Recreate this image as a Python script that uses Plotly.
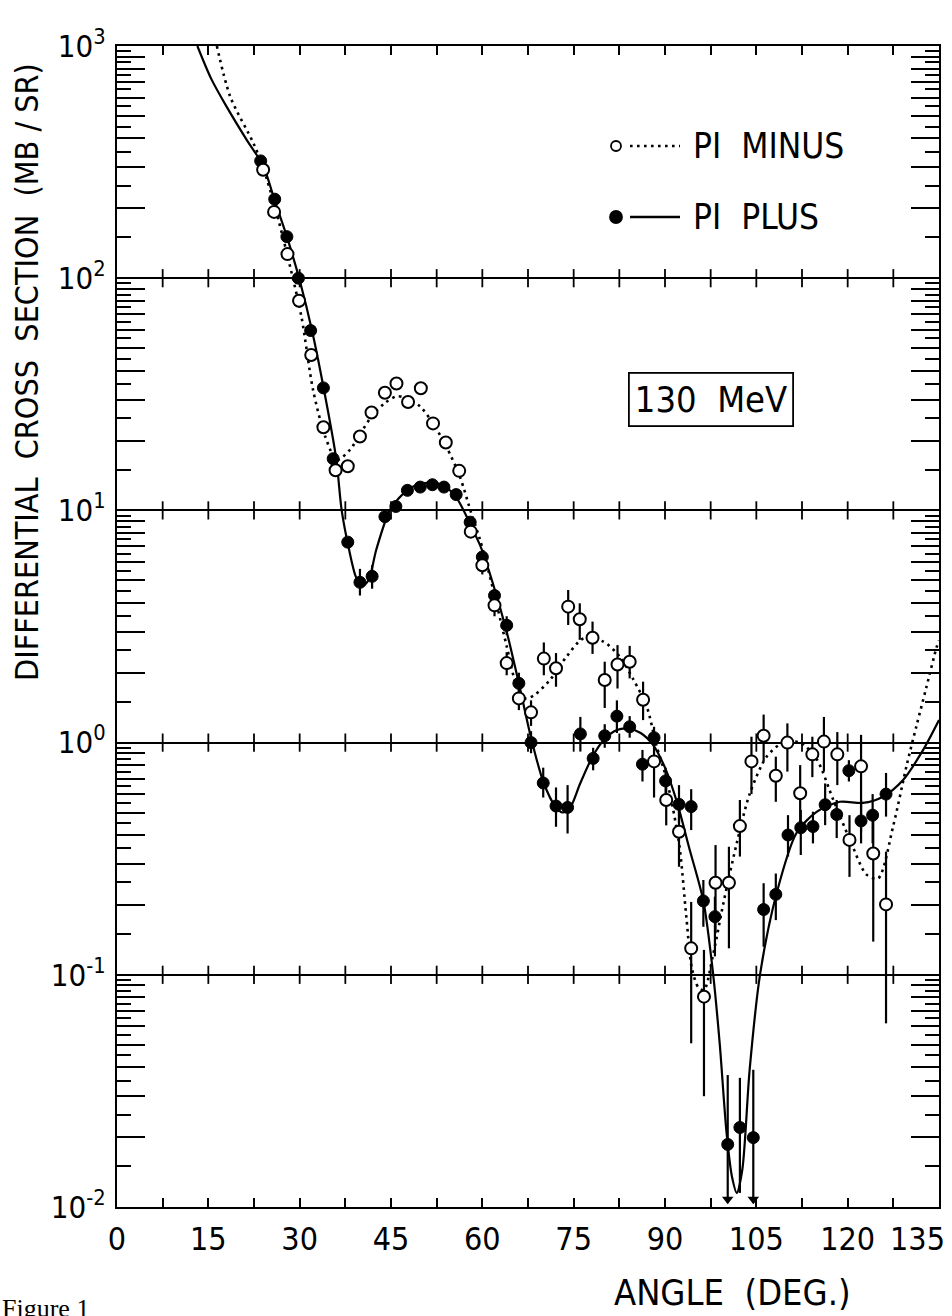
import plotly.graph_objects as go

# ---------------- measured differential cross sections (mb/sr) ----------------
# pi-  (open circles)
minus_angle = [24.0, 25.8, 28.0, 29.9, 31.9, 33.9, 35.9, 37.9, 39.9, 41.8,
               44.0, 45.9, 47.8, 49.9, 51.9, 54.0, 56.2, 58.1, 60.0, 62.0,
               64.0, 66.0, 68.0, 70.1, 72.1, 74.1, 76.0, 78.1, 80.1, 82.2,
               84.2, 86.4, 88.2, 90.2, 92.3, 94.3, 96.4, 98.3, 100.5, 102.3,
               104.2, 106.2, 108.2, 110.1, 112.2, 114.2, 116.1, 118.3, 120.3, 122.2,
               124.2, 126.3]
minus_xs = [293, 193, 127, 80, 46.7, 22.8, 14.9, 15.5, 20.8, 26.4,
            32.1, 35.2, 29.3, 33.6, 23.7, 19.6, 14.8, 8.1, 5.8, 3.9,
            2.2, 1.55, 1.35, 2.3, 2.09, 3.85, 3.40, 2.83, 1.86, 2.17,
            2.23, 1.53, 0.83, 0.566, 0.413, 0.130, 0.0805, 0.249, 0.249, 0.437,
            0.83, 1.07, 0.72, 1.0, 0.605, 0.89, 1.01, 0.89, 0.381, 0.79,
            0.333, 0.201]
# error bar ends (None where the bar is hidden by the symbol)
minus_hi = [None] * 18 + [6.3, 4.3,
            2.45, 1.72, 1.52, 2.7, 2.43, 4.54, 3.98, 3.32, 2.23, 2.63,
            2.61, 1.83, 0.95, 0.68, 0.513, 0.206, 0.128, 0.362, 0.356, 0.566,
            1.06, 1.32, 0.87, 1.21, 0.80, 1.06, 1.29, 1.11, 0.487, 1.08,
            0.487, 0.339]
minus_lo = [None] * 18 + [5.3, 3.5,
            1.95, 1.38, 1.18, 1.95, 1.74, 3.21, 2.77, 2.41, 1.41, 1.71,
            1.89, 1.25, 0.58, 0.44, 0.292, 0.0507, 0.030, 0.151, 0.13, 0.323,
            0.60, 0.83, 0.556, 0.75, 0.434, 0.71, 0.75, 0.656, 0.264, 0.413,
            0.139, 0.0618]

# pi+  (filled circles)
plus_angle = [23.6, 25.9, 27.9, 29.8, 31.8, 33.9, 35.5, 37.9, 39.9, 41.9,
              44.0, 45.8, 47.7, 49.8, 51.8, 53.7, 55.7, 58.0, 60.0, 62.0,
              64.0, 66.0, 68.0, 70.0, 72.1, 74.0, 76.1, 78.2, 80.1, 82.1,
              84.2, 86.3, 88.2, 90.1, 92.3, 94.3, 96.3, 98.2, 100.3, 102.3,
              104.5, 106.2, 108.2, 110.2, 112.3, 114.3, 116.3, 118.2, 120.2, 122.2,
              124.1, 126.3]
plus_xs = [320, 219, 151, 100, 59.5, 33.7, 16.7, 7.3, 4.9, 5.2,
           9.4, 10.4, 12.2, 12.6, 12.9, 12.6, 11.7, 8.9, 6.3, 4.3,
           3.2, 1.8, 1.0, 0.67, 0.533, 0.526, 1.09, 0.855, 1.07, 1.30,
           1.17, 0.807, 1.05, 0.684, 0.542, 0.53, 0.208, 0.178, 0.0186, 0.022,
           0.0199, 0.191, 0.222, 0.40, 0.43, 0.435, 0.54, 0.49, 0.757, 0.46,
           0.487, 0.60]
plus_hi = [None] * 8 + [5.6, 5.8] + [None] * 10 + [
           3.5, 2.0, 1.12, 0.78, 0.641, 0.656, 1.29, 0.95, 1.2, 1.52,
           1.3, 0.93, 1.17, 0.78, 0.656, 0.63, 0.256, 0.217, 0.037, 0.036,
           0.039, 0.248, 0.273, 0.487, 0.513, 0.504, 0.667, 0.566, 0.84, 0.566,
           0.60, 0.74]
plus_lo = [None] * 8 + [4.3, 4.6] + [None] * 10 + [
           2.9, 1.6, 0.9, 0.58, 0.434, 0.406, 0.915, 0.76, 0.95, 1.10,
           1.05, 0.68, 0.94, 0.59, 0.45, 0.42, 0.161, 0.12, 0.0104, 0.0115,
           0.0104, 0.132, 0.172, 0.323, 0.328, 0.368, 0.441, 0.388, 0.68, 0.368,
           0.368, 0.48]

# upper limits drawn as downward arrows at the lower frame
limit_angle = [100.3, 104.5]
limit_xs = [0.0108, 0.0108]

# ---------------- calculated cross sections ----------------
plus_curve_angle = [13.2, 15.5, 18.0, 21.3, 24.0, 26.0, 28.0, 30.0, 32.0, 34.0,
                    36.0, 36.9, 38.1, 39.2, 40.2, 41.3, 42.6, 44.8, 47.0, 49.0,
                    51.8, 54.0, 55.8, 58.5, 59.9, 62.0, 64.0, 66.0, 68.0, 70.0,
                    72.0, 73.2, 74.5, 76.0, 78.0, 80.0, 82.0, 84.0, 86.0, 88.0,
                    90.0, 92.0, 94.0, 96.3, 97.9, 99.0, 100.1, 101.0, 101.8, 102.7,
                    103.9, 105.6, 108.3, 111.6, 114.9, 118.7, 122.5, 125.8, 129.1, 132.4,
                    135.0]
plus_curve_xs = [1000, 720, 548, 394, 305, 212, 148, 98, 60, 33,
                 16.7, 10.0, 6.8, 5.2, 4.7, 5.0, 6.8, 10.0, 11.8, 12.8,
                 13.2, 12.6, 11.3, 8.2, 6.8, 4.6, 3.0, 1.8, 1.05, 0.68,
                 0.53, 0.50, 0.53, 0.66, 0.86, 1.03, 1.13, 1.15, 1.10, 0.98,
                 0.78, 0.55, 0.35, 0.208, 0.101, 0.05, 0.021, 0.0135, 0.0115, 0.0145,
                 0.039, 0.10, 0.223, 0.408, 0.503, 0.556, 0.55, 0.585, 0.69, 0.93,
                 1.25]

minus_curve_angle = [16.4, 18.6, 22.4, 24.0, 26.0, 28.0, 30.3, 32.2, 34.2, 36.1,
                     38.3, 40.0, 42.1, 44.0, 45.9, 47.5, 49.8, 51.9, 54.1, 56.3,
                     58.2, 59.6, 61.0, 62.5, 64.0, 65.5, 67.0, 68.5, 71.1, 73.8,
                     76.6, 79.9, 82.6, 84.8, 87.0, 88.6, 90.3, 92.3, 93.5, 94.4,
                     95.5, 96.4, 97.9, 99.6, 101.8, 103.9, 106.7, 109.4, 112.2, 114.9,
                     117.6, 120.4, 123.1, 125.0, 127.5, 129.7, 131.3, 132.9, 134.6, 135.0]
minus_curve_xs = [1000, 605, 382, 300, 200, 125, 68, 33, 20.8, 16.5,
                  18.3, 21.5, 26.0, 29.0, 31.0, 30.5, 28.0, 23.7, 18.8, 14.0,
                  9.7, 7.5, 5.5, 3.8, 2.6, 1.8, 1.55, 1.6, 1.86, 2.34,
                  2.81, 2.72, 2.34, 1.87, 1.43, 0.97, 0.69, 0.37, 0.178, 0.107,
                  0.088, 0.086, 0.122, 0.204, 0.37, 0.60, 0.87, 1.0, 1.0, 0.85,
                  0.57, 0.38, 0.27, 0.26, 0.44, 0.80, 1.18, 1.72, 2.57, 2.75]

# ---------------- axis ticks ----------------
x_label_vals = [0, 15, 30, 45, 60, 75, 90, 105, 120]
x_label_text = ["0", "15", "30", "45", "60", "75", "90", "105", "120"]
x_minor_vals = [7.5, 22.5, 37.5, 52.5, 67.5, 82.5, 97.5, 112.5, 127.5, 135]
x_end_label = "135"
decade_vals = [0.01, 0.1, 1, 10, 100, 1000]
decade_text = ["10<sup>-2</sup>", "10<sup>-1</sup>", "10<sup>0</sup>",
               "10<sup>1</sup>", "10<sup>2</sup>", "10<sup>3</sup>"]
long_mantissa = [2, 3, 4, 5, 6, 7, 8, 9]
short_mantissa = [1.5, 2.5, 3.5, 4.5, 5.5, 6.5, 7.5, 8.5, 9.5]
inner_decades = [0.1, 1, 10, 100]
inner_tick_angles = [7.5, 15, 22.5, 30, 37.5, 45, 52.5, 60, 67.5, 75, 82.5, 90,
                     97.5, 105, 112.5, 120, 127.5]

FONT = "DejaVu Sans Condensed, Liberation Sans Narrow, DejaVu Sans, sans-serif"
INK = "black"

# plot frame in pixels
W, H = 952, 1316
L, R, T, B = 117, 13, 46, 109
PW, PH = W - L - R, H - T - B


def px(x):
    return (x - L) / PW


def py(y):
    return (H - B - y) / PH


def bars(vals, hi, lo):
    up = [0 if h is None else h - v for v, h in zip(vals, hi)]
    dn = [0 if l is None else v - l for v, l in zip(vals, lo)]
    return up, dn


long_ticks = [m * d for d in decade_vals[:-1] for m in long_mantissa]
short_ticks = [m * d for d in decade_vals[:-1] for m in short_mantissa]

fig = go.Figure()

# calculated curves
fig.add_trace(go.Scatter(
    x=minus_curve_angle, y=minus_curve_xs, mode="lines",
    line=dict(color=INK, width=2.6, dash="2.6px,4.4px", shape="spline", smoothing=0.8),
    hoverinfo="skip", showlegend=False))
fig.add_trace(go.Scatter(
    x=plus_curve_angle, y=plus_curve_xs, mode="lines",
    line=dict(color=INK, width=2.2, shape="spline", smoothing=0.8),
    hoverinfo="skip", showlegend=False))

# data points
m_up, m_dn = bars(minus_xs, minus_hi, minus_lo)
p_up, p_dn = bars(plus_xs, plus_hi, plus_lo)
fig.add_trace(go.Scatter(
    x=plus_angle, y=plus_xs, mode="markers", name="PI PLUS",
    marker=dict(symbol="circle", size=12, color=INK, line=dict(color=INK, width=1)),
    error_y=dict(type="data", symmetric=False, array=p_up, arrayminus=p_dn,
                 thickness=2.2, width=0, color=INK),
    showlegend=False))
fig.add_trace(go.Scatter(
    x=minus_angle, y=minus_xs, mode="markers", name="PI MINUS",
    marker=dict(symbol="circle", size=12, color="white", line=dict(color=INK, width=2)),
    error_y=dict(type="data", symmetric=False, array=m_up, arrayminus=m_dn,
                 thickness=2.2, width=0, color=INK),
    showlegend=False))
fig.add_trace(go.Scatter(
    x=limit_angle, y=limit_xs, mode="markers",
    marker=dict(symbol="triangle-down", size=10, color=INK),
    hoverinfo="skip", showlegend=False, cliponaxis=False))

# short crossing ticks along the interior decade lines
fig.add_trace(go.Scatter(
    x=[a for d in inner_decades for a in inner_tick_angles],
    y=[d for d in inner_decades for a in inner_tick_angles],
    mode="markers", yaxis="y2",
    marker=dict(symbol="line-ns", size=13, line=dict(color=INK, width=1.8)),
    hoverinfo="skip", showlegend=False, cliponaxis=False))

# legend glyphs and text
legend_rows = [("PI  MINUS", 146, "white", 10, "2.6px,4.4px"),
               ("PI  PLUS", 217, INK, 12, "solid")]
for label, yc, fill, dia, dash in legend_rows:
    fig.add_shape(type="circle", xref="paper", yref="paper",
                  xsizemode="pixel", ysizemode="pixel",
                  xanchor=px(616), yanchor=py(yc),
                  x0=-dia / 2, x1=dia / 2, y0=-dia / 2, y1=dia / 2,
                  fillcolor=fill, line=dict(color=INK, width=1.8))
    fig.add_shape(type="line", xref="paper", yref="paper",
                  x0=px(630), x1=px(680), y0=py(yc), y1=py(yc),
                  line=dict(color=INK, width=2.4, dash=dash))
    fig.add_annotation(text=label.replace(" ", "&nbsp;"), xref="paper", yref="paper",
                       x=px(691), y=py(yc), xanchor="left", yanchor="middle",
                       showarrow=False, font=dict(family=FONT, size=35, color=INK))

# energy label
fig.add_annotation(text="130&nbsp;&nbsp;MeV", xref="paper", yref="paper",
                   x=px(711), y=py(400), xanchor="center", yanchor="middle",
                   showarrow=False, font=dict(family=FONT, size=36, color=INK),
                   bordercolor=INK, borderwidth=1.8, borderpad=5, bgcolor="white")

# last x tick label kept inside the page
fig.add_annotation(text=x_end_label, xref="paper", yref="paper",
                   x=px(947), y=py(1239), xanchor="right", yanchor="middle",
                   showarrow=False, font=dict(family=FONT, size=32, color=INK))

# axis titles
fig.add_annotation(text="ANGLE&nbsp;&nbsp;(DEG.)", xref="paper", yref="paper",
                   x=px(732), y=py(1292), xanchor="center", yanchor="middle",
                   showarrow=False, font=dict(family=FONT, size=36, color=INK))
fig.add_annotation(text="DIFFERENTIAL&nbsp;&nbsp;CROSS&nbsp;&nbsp;SECTION&nbsp;&nbsp;(MB&nbsp;/&nbsp;SR)",
                   xref="paper", yref="paper",
                   x=px(27), y=py(372), xanchor="center", yanchor="middle",
                   textangle=-90, showarrow=False,
                   font=dict(family=FONT, size=32, color=INK))
fig.add_annotation(text="Figure 1", xref="paper", yref="paper",
                   x=px(0), y=py(1292), xanchor="left", yanchor="top",
                   showarrow=False,
                   font=dict(family="Liberation Serif, serif", size=26, color=INK))

fig.update_layout(
    width=W, height=H,
    margin=dict(l=L, r=R, t=T, b=B, pad=0),
    paper_bgcolor="white", plot_bgcolor="white",
    font=dict(family=FONT, color=INK),
    xaxis=dict(range=[0, 135], tickmode="array", tickvals=x_label_vals,
               ticktext=x_label_text, ticks="inside", ticklen=9, tickwidth=1.8,
               tickcolor=INK, showline=True, linewidth=2.4, linecolor=INK,
               mirror="ticks", showgrid=False, zeroline=False,
               ticklabelstandoff=2, tickfont=dict(family=FONT, size=32, color=INK),
               minor=dict(tickmode="array", tickvals=x_minor_vals, ticks="inside",
                          ticklen=9, tickwidth=1.8, tickcolor=INK, showgrid=False)),
    yaxis=dict(type="log", range=[-2, 3], tickmode="array",
               tickvals=decade_vals, ticktext=decade_text,
               ticks="inside", ticklen=28, tickwidth=1.8, tickcolor=INK,
               showline=True, linewidth=2.4, linecolor=INK, mirror="ticks",
               showgrid=True, gridcolor=INK, gridwidth=1.8, zeroline=False,
               ticklabelstandoff=3, tickfont=dict(family=FONT, size=31, color=INK),
               minor=dict(tickmode="array", tickvals=long_ticks, ticks="inside",
                          ticklen=28, tickwidth=1.8, tickcolor=INK, showgrid=False)),
    yaxis2=dict(type="log", range=[-2, 3], overlaying="y", side="left",
                tickmode="array", tickvals=short_ticks, ticks="inside",
                ticklen=14, tickwidth=1.8, tickcolor=INK, showticklabels=False,
                showline=False, mirror="ticks", showgrid=False, zeroline=False),
    showlegend=False,
)

fig.write_html("out.html")
